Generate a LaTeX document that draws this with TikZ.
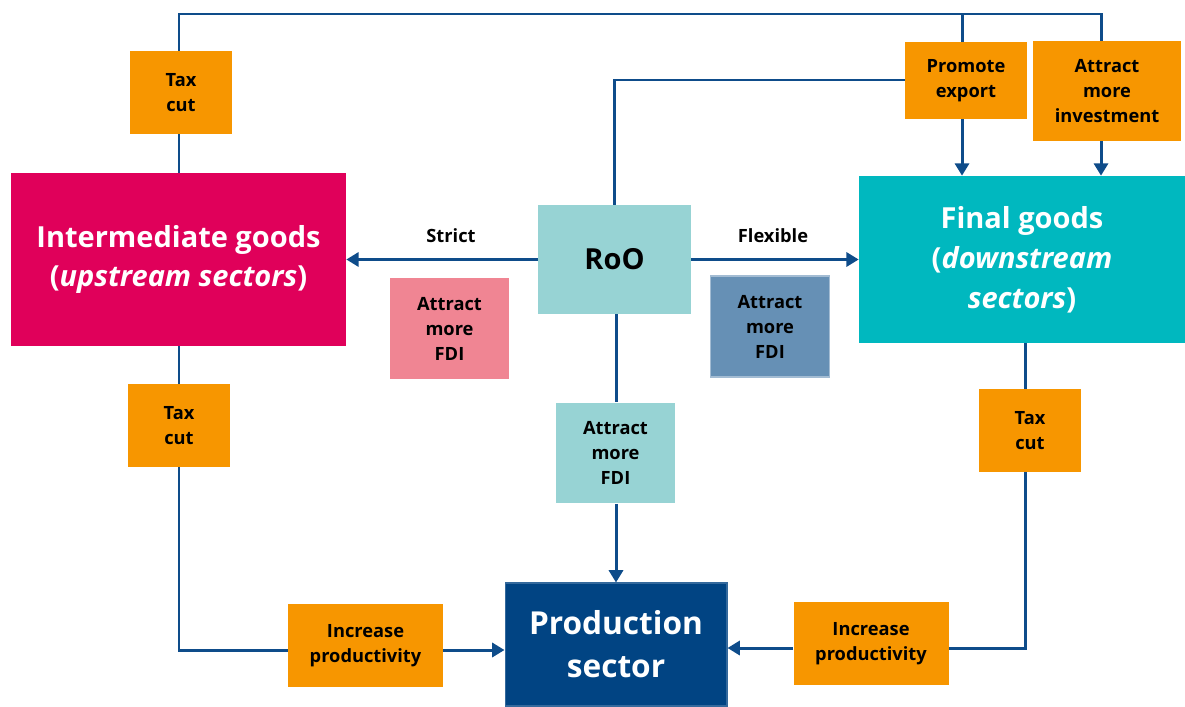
\documentclass[tikz,border=0pt]{standalone}
\usepackage{fontspec}
\setmainfont{Open Sans}
\usepackage{tikz}
\usetikzlibrary{arrows.meta, positioning, backgrounds}
\usepackage{xcolor}
\definecolor{taxorange}{HTML}{F79600}
\definecolor{upmagenta}{HTML}{E0005A}
\definecolor{downteal}{HTML}{00B8BF}
\definecolor{roolight}{HTML}{97D3D4}
\definecolor{fdipink}{HTML}{F08593}
\definecolor{fdisteel}{HTML}{6690B5}
\definecolor{prodnavy}{HTML}{014483}
\definecolor{linkblue}{HTML}{0E4C8A}

\begin{document}
\begin{tikzpicture}[
    x=0.02cm, y=-0.02cm,
    small/.style={font=\fontsize{10.4}{14.2}\selectfont\bfseries},
    box/.style={rectangle, inner sep=0pt, align=center, small},
    policy/.style={box, fill=taxorange, minimum width=2.04cm, minimum height=1.66cm},
    gain/.style={box, fill=taxorange, minimum width=3.1cm, minimum height=1.66cm},
    fdi/.style={box, minimum width=2.38cm, minimum height=2.02cm},
    sector/.style={box, text=white, font=\fontsize{16.5}{22.7}\selectfont\bfseries},
    arr/.style={-{Triangle[length=7pt, width=8pt]}, line width=1.7pt, color=linkblue},
    link/.style={line width=1.7pt, color=linkblue},
    lbl/.style={small}
]
\useasboundingbox (0,0) rectangle (1185,706);

% main sectors
\node[sector, fill=upmagenta, minimum width=6.7cm, minimum height=3.46cm] (inter) at (178.5,259.5)
    {Intermediate goods\\(\textit{upstream sectors})};
\node[sector, fill=downteal, minimum width=6.52cm, minimum height=3.34cm] (final) at (1022,259.5)
    {Final goods\\(\textit{downstream}\\\textit{sectors})};
\node[box, fill=roolight, minimum width=3.06cm, minimum height=2.18cm, font=\fontsize{16.5}{22.7}\selectfont\bfseries] (roo) at (614.5,259.5) {RoO};
\node[sector, fill=prodnavy, draw=prodnavy!80!white, line width=0.6pt, minimum width=4.44cm, minimum height=2.46cm, font=\fontsize{18}{24.4}\selectfont\bfseries] (prod) at (616,644.5)
    {Production\\sector};

% policy boxes
\node[policy] (taxup) at (181,92.5) {Tax\\cut};
\node[policy] (taxlow) at (179,425.5) {Tax\\cut};
\node[policy] (taxfin) at (1030,430.5) {Tax\\cut};
\node[policy, minimum width=2.44cm, minimum height=1.54cm] (export) at (966,80.5) {Promote\\export};
\node[policy, minimum width=2.96cm, minimum height=2.0cm] (invest) at (1107,91) {Attract\\more\\investment};
\node[gain] (prodleft) at (365.5,645.5) {Increase\\productivity};
\node[gain] (prodright) at (871,643.5) {Increase\\productivity};

% fdi boxes
\node[fdi, fill=fdipink] (fdistrict) at (449.5,328.5) {Attract\\more\\FDI};
\node[fdi, fill=fdisteel, draw=fdisteel!60!white, line width=0.6pt] (fdiflex) at (770,326.5) {Attract\\more\\FDI};
\node[fdi, fill=roolight] (fdiroo) at (615.5,453) {Attract\\more\\FDI};

% rule labels
\node[lbl] (strict) at (451,236) {Strict};
\node[lbl] (flex) at (773,236) {Flexible};

\coordinate (topleft) at (179,14);
\coordinate (topright) at (1101,14);
\coordinate (roobend) at (614,80);
\coordinate (lowleft) at (179,650);
\coordinate (lowright) at (1025,648);

\begin{scope}[on background layer]
\draw[link] (inter.north -| topleft) -- (topleft) -- (topright) -- (topright |- invest.north);
\draw[link] (topleft -| 962,0) -- (export.north -| 962,0);
\draw[link] (roo.north -| roobend) -- (roobend) -- (export.west |- roobend);
\draw[link] (inter.south -| lowleft) -- (lowleft) -- (prodleft.west |- lowleft);
\draw[link] (final.south -| lowright) -- (lowright) -- (prodright.east |- lowright);
\draw[link] (roo.south -| 616,0) -- (fdiroo.north -| 616,0);
\end{scope}

\draw[arr] (export.south -| 962,0) -- (final.north -| 962,0);
\draw[arr] (invest.south -| topright) -- (final.north -| topright);
\draw[arr] (roo.west) -- (inter.east);
\draw[arr] (roo.east) -- (final.west);
\draw[arr] (fdiroo.south -| 616,0) -- (prod.north);
\draw[arr] (prodleft.east |- lowleft) -- (prod.west |- lowleft);
\draw[arr] (prodright.west |- lowright) -- (prod.east |- lowright);
\end{tikzpicture}
\end{document}
